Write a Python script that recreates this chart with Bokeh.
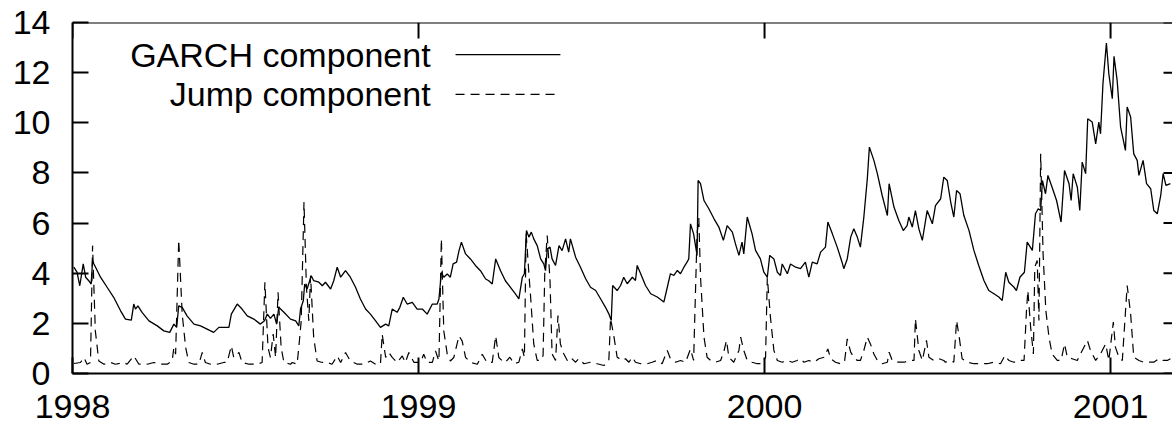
from bokeh.plotting import figure
from bokeh.models import Range1d, LinearAxis, FixedTicker, Label, Span
from bokeh.embed import file_html
from bokeh.resources import INLINE

# ---- data ----
garch_t = [1998.004, 1998.013, 1998.021, 1998.031, 1998.038, 1998.047, 1998.054, 1998.058, 1998.062, 1998.081,
           1998.100, 1998.119, 1998.139, 1998.153, 1998.170, 1998.177, 1998.182, 1998.189, 1998.201, 1998.221,
           1998.245, 1998.264, 1998.281, 1998.293, 1998.301, 1998.307, 1998.317, 1998.331, 1998.351, 1998.370,
           1998.389, 1998.408, 1998.423, 1998.437, 1998.452, 1998.459, 1998.476, 1998.490, 1998.505, 1998.524,
           1998.543, 1998.555, 1998.563, 1998.572, 1998.582, 1998.590, 1998.596, 1998.611, 1998.630, 1998.645,
           1998.654, 1998.659, 1998.667, 1998.671, 1998.678, 1998.690, 1998.697, 1998.712, 1998.722, 1998.731,
           1998.746, 1998.755, 1998.765, 1998.775, 1998.789, 1998.803, 1998.818, 1998.832, 1998.847, 1998.861,
           1998.876, 1998.890, 1998.905, 1998.914, 1998.924, 1998.938, 1998.946, 1998.956, 1998.967, 1998.982,
           1998.996, 1999.011, 1999.025, 1999.040, 1999.054, 1999.059, 1999.066, 1999.073, 1999.083, 1999.092,
           1999.100, 1999.110, 1999.117, 1999.124, 1999.136, 1999.150, 1999.165, 1999.179, 1999.194, 1999.203,
           1999.213, 1999.223, 1999.237, 1999.251, 1999.280, 1999.290, 1999.300, 1999.306, 1999.312, 1999.319,
           1999.326, 1999.333, 1999.343, 1999.353, 1999.362, 1999.367, 1999.372, 1999.380, 1999.386, 1999.396,
           1999.406, 1999.415, 1999.425, 1999.434, 1999.439, 1999.454, 1999.468, 1999.483, 1999.497, 1999.512,
           1999.526, 1999.540, 1999.550, 1999.557, 1999.561, 1999.574, 1999.584, 1999.593, 1999.603, 1999.618,
           1999.627, 1999.632, 1999.642, 1999.656, 1999.671, 1999.690, 1999.709, 1999.719, 1999.728, 1999.738,
           1999.748, 1999.757, 1999.767, 1999.776, 1999.781, 1999.786, 1999.795, 1999.805, 1999.808, 1999.815,
           1999.825, 1999.839, 1999.854, 1999.868, 1999.881, 1999.892, 1999.907, 1999.916, 1999.926, 1999.935,
           1999.940, 1999.950, 1999.964, 1999.974, 1999.988, 1999.998, 2000.008, 2000.015, 2000.027, 2000.037,
           2000.046, 2000.051, 2000.066, 2000.075, 2000.090, 2000.104, 2000.118, 2000.128, 2000.138, 2000.152,
           2000.162, 2000.176, 2000.183, 2000.196, 2000.210, 2000.224, 2000.229, 2000.239, 2000.249, 2000.258,
           2000.268, 2000.277, 2000.287, 2000.297, 2000.303, 2000.316, 2000.326, 2000.340, 2000.355, 2000.360,
           2000.374, 2000.388, 2000.401, 2000.412, 2000.417, 2000.427, 2000.436, 2000.446, 2000.456, 2000.470,
           2000.485, 2000.494, 2000.509, 2000.518, 2000.528, 2000.538, 2000.547, 2000.555, 2000.565, 2000.576,
           2000.591, 2000.605, 2000.619, 2000.634, 2000.648, 2000.663, 2000.677, 2000.687, 2000.697, 2000.706,
           2000.721, 2000.728, 2000.738, 2000.751, 2000.759, 2000.774, 2000.783, 2000.791, 2000.798, 2000.803,
           2000.812, 2000.819, 2000.831, 2000.844, 2000.857, 2000.867, 2000.880, 2000.886, 2000.892, 2000.904,
           2000.911, 2000.918, 2000.928, 2000.934, 2000.947, 2000.957, 2000.966, 2000.971, 2000.978, 2000.988,
           2000.995, 2001.005, 2001.010, 2001.019, 2001.029, 2001.043, 2001.048, 2001.058, 2001.067, 2001.077,
           2001.082, 2001.094, 2001.104, 2001.116, 2001.125, 2001.135, 2001.145, 2001.152, 2001.160, 2001.173]
garch_v = [4.24, 4.04, 3.50, 4.37, 3.84, 3.70, 3.57, 4.50, 4.37, 3.84,
           3.44, 3.04, 2.50, 2.17, 2.13, 2.77, 2.57, 2.70, 2.44, 2.10,
           1.90, 1.70, 1.64, 1.97, 1.84, 2.70, 2.64, 2.30, 1.97, 1.90,
           1.77, 1.64, 1.84, 1.84, 1.84, 2.37, 2.77, 2.57, 2.30, 2.17,
           1.97, 2.10, 2.37, 2.20, 2.37, 1.97, 2.64, 2.44, 2.17, 2.10,
           1.90, 2.57, 2.90, 3.57, 3.37, 3.90, 3.70, 3.64, 3.50, 3.64,
           3.37, 3.70, 4.24, 3.84, 4.10, 3.84, 3.44, 2.97, 2.57, 2.37,
           2.10, 1.84, 1.97, 1.90, 2.57, 2.44, 2.64, 3.04, 2.77, 2.84,
           2.57, 2.57, 2.37, 2.77, 2.77, 2.97, 4.04, 3.84, 3.97, 3.84,
           4.37, 4.44, 4.90, 5.24, 4.77, 4.57, 4.30, 4.10, 3.77, 3.70,
           3.57, 4.57, 4.10, 3.70, 3.18, 2.98, 3.84, 3.98, 5.70, 5.44,
           5.64, 5.37, 5.10, 4.57, 4.37, 4.10, 4.97, 5.04, 4.57, 4.31,
           5.10, 4.90, 5.37, 4.84, 5.37, 4.64, 4.24, 3.78, 3.44, 3.31,
           2.98, 2.65, 2.38, 2.11, 3.51, 3.31, 3.51, 3.84, 3.58, 3.84,
           3.71, 4.31, 3.98, 3.51, 3.18, 3.05, 2.85, 3.44, 3.98, 3.91,
           4.11, 3.98, 4.24, 4.44, 4.57, 5.97, 5.57, 4.71, 7.70, 7.57,
           6.90, 6.57, 6.17, 5.84, 5.31, 5.90, 5.64, 5.17, 4.71, 5.24,
           4.77, 6.24, 5.57, 4.91, 4.57, 4.04, 3.84, 4.71, 4.57, 4.04,
           3.91, 4.37, 3.98, 4.37, 4.24, 4.18, 4.44, 3.84, 4.44, 4.37,
           4.84, 5.04, 6.04, 5.57, 5.04, 4.44, 4.18, 4.57, 5.44, 5.77,
           5.44, 5.04, 6.24, 7.77, 9.03, 8.50, 7.97, 7.10, 6.30, 7.57,
           6.64, 6.10, 5.70, 5.90, 6.24, 5.84, 6.50, 5.77, 5.31, 6.50,
           5.97, 6.70, 6.97, 7.83, 7.70, 6.84, 6.24, 7.30, 7.17, 6.30,
           5.70, 4.91, 4.31, 3.71, 3.31, 3.18, 3.05, 2.91, 4.04, 3.64,
           3.44, 3.31, 3.84, 4.04, 5.24, 4.91, 6.37, 6.57, 6.50, 7.70,
           7.17, 7.90, 7.43, 6.90, 6.04, 8.10, 7.57, 6.90, 7.97, 7.43,
           6.50, 8.43, 7.97, 10.16, 10.03, 9.16, 10.03, 9.56, 11.56, 13.18,
           11.95, 10.96, 12.65, 11.69, 9.83, 8.90, 10.63, 10.23, 8.76, 8.50,
           7.90, 8.50, 7.57, 7.37, 6.50, 6.37, 7.10, 7.97, 7.50, 7.57]

jump_t = [1998.004, 1998.023, 1998.033, 1998.042, 1998.052, 1998.058, 1998.066, 1998.076, 1998.091, 1998.110,
          1998.124, 1998.148, 1998.158, 1998.177, 1998.192, 1998.216, 1998.235, 1998.254, 1998.274, 1998.288,
          1998.293, 1998.298, 1998.307, 1998.317, 1998.327, 1998.336, 1998.351, 1998.365, 1998.375, 1998.384,
          1998.399, 1998.418, 1998.437, 1998.447, 1998.459, 1998.466, 1998.481, 1998.490, 1998.510, 1998.534,
          1998.548, 1998.556, 1998.565, 1998.572, 1998.580, 1998.587, 1998.594, 1998.603, 1998.611, 1998.630,
          1998.635, 1998.649, 1998.654, 1998.661, 1998.669, 1998.676, 1998.683, 1998.688, 1998.697, 1998.707,
          1998.722, 1998.736, 1998.750, 1998.765, 1998.775, 1998.789, 1998.803, 1998.823, 1998.842, 1998.861,
          1998.876, 1998.890, 1998.895, 1998.905, 1998.914, 1998.924, 1998.938, 1998.953, 1998.962, 1998.972,
          1998.987, 1999.006, 1999.015, 1999.025, 1999.040, 1999.049, 1999.059, 1999.066, 1999.073, 1999.083,
          1999.092, 1999.102, 1999.117, 1999.126, 1999.136, 1999.150, 1999.170, 1999.184, 1999.198, 1999.213,
          1999.223, 1999.232, 1999.247, 1999.251, 1999.264, 1999.276, 1999.290, 1999.300, 1999.306, 1999.311,
          1999.319, 1999.324, 1999.333, 1999.343, 1999.353, 1999.360, 1999.365, 1999.372, 1999.380, 1999.386,
          1999.396, 1999.403, 1999.410, 1999.420, 1999.430, 1999.439, 1999.454, 1999.463, 1999.478, 1999.497,
          1999.516, 1999.536, 1999.550, 1999.555, 1999.565, 1999.574, 1999.589, 1999.598, 1999.608, 1999.618,
          1999.627, 1999.642, 1999.661, 1999.675, 1999.690, 1999.704, 1999.719, 1999.728, 1999.743, 1999.757,
          1999.772, 1999.786, 1999.795, 1999.805, 1999.810, 1999.815, 1999.825, 1999.834, 1999.844, 1999.858,
          1999.873, 1999.882, 1999.890, 1999.897, 1999.911, 1999.926, 1999.931, 1999.940, 1999.950, 1999.964,
          1999.979, 1999.993, 2000.003, 2000.008, 2000.017, 2000.027, 2000.037, 2000.051, 2000.066, 2000.080,
          2000.094, 2000.104, 2000.114, 2000.128, 2000.143, 2000.157, 2000.172, 2000.183, 2000.191, 2000.205,
          2000.220, 2000.231, 2000.239, 2000.249, 2000.258, 2000.268, 2000.277, 2000.287, 2000.297, 2000.306,
          2000.316, 2000.326, 2000.340, 2000.355, 2000.360, 2000.369, 2000.383, 2000.403, 2000.422, 2000.432,
          2000.436, 2000.446, 2000.456, 2000.468, 2000.475, 2000.489, 2000.504, 2000.518, 2000.523, 2000.538,
          2000.547, 2000.555, 2000.562, 2000.571, 2000.586, 2000.605, 2000.624, 2000.644, 2000.663, 2000.682,
          2000.695, 2000.706, 2000.721, 2000.735, 2000.750, 2000.757, 2000.761, 2000.769, 2000.777, 2000.781,
          2000.788, 2000.793, 2000.798, 2000.805, 2000.813, 2000.822, 2000.831, 2000.846, 2000.857, 2000.867,
          2000.875, 2000.889, 2000.904, 2000.913, 2000.923, 2000.933, 2000.942, 2000.957, 2000.971, 2000.986,
          2000.995, 2001.008, 2001.014, 2001.024, 2001.034, 2001.048, 2001.058, 2001.067, 2001.082, 2001.096,
          2001.111, 2001.125, 2001.140, 2001.152, 2001.164, 2001.173]
jump_v = [0.40, 0.44, 0.64, 0.37, 0.44, 5.10, 1.70, 0.50, 0.37, 0.44,
          0.37, 0.44, 0.37, 0.70, 0.37, 0.37, 0.44, 0.37, 0.37, 0.50,
          1.04, 0.77, 5.33, 2.37, 1.04, 0.44, 0.37, 0.37, 0.84, 0.44,
          0.37, 0.37, 0.44, 0.44, 1.10, 0.64, 0.84, 0.44, 0.37, 0.37,
          0.44, 3.64, 1.04, 0.64, 1.57, 0.64, 3.24, 1.04, 0.44, 0.37,
          0.44, 0.37, 1.04, 2.10, 6.84, 3.44, 2.10, 3.90, 1.44, 0.50,
          0.44, 0.44, 0.37, 0.70, 0.44, 0.84, 0.50, 0.37, 0.37, 0.50,
          0.37, 0.37, 1.57, 0.64, 0.84, 0.64, 0.44, 0.70, 0.44, 0.84,
          0.44, 0.44, 0.77, 0.44, 0.44, 0.90, 0.50, 5.37, 1.70, 0.77,
          0.50, 0.64, 1.50, 1.30, 0.64, 0.44, 0.37, 0.77, 0.44, 0.44,
          1.50, 0.64, 0.44, 0.45, 0.65, 0.39, 0.45, 0.98, 0.65, 5.60,
          3.98, 3.05, 1.18, 0.52, 0.52, 0.72, 4.11, 5.50, 3.71, 0.78,
          0.52, 2.31, 1.18, 0.78, 0.52, 0.65, 0.45, 0.59, 0.39, 0.45,
          0.39, 0.32, 0.52, 2.20, 1.45, 0.65, 0.52, 0.59, 0.45, 0.65,
          0.45, 0.39, 0.39, 0.45, 0.52, 0.39, 0.92, 0.59, 0.45, 0.52,
          0.45, 0.98, 0.52, 5.57, 6.20, 3.84, 1.45, 0.65, 0.52, 0.45,
          0.52, 0.85, 1.32, 0.65, 0.45, 0.92, 1.45, 0.92, 0.52, 0.45,
          0.39, 0.39, 0.65, 3.84, 2.25, 0.92, 0.52, 0.45, 0.52, 0.45,
          0.52, 0.59, 0.45, 0.52, 0.45, 0.59, 0.65, 0.98, 0.59, 0.45,
          0.39, 0.45, 1.38, 0.85, 0.65, 0.52, 0.52, 0.92, 1.45, 1.18,
          0.78, 0.52, 0.39, 0.45, 0.85, 0.52, 0.45, 0.45, 0.52, 0.52,
          2.18, 0.92, 0.52, 1.32, 0.65, 0.52, 0.59, 0.52, 0.45, 0.52,
          0.45, 2.11, 1.52, 0.59, 0.45, 0.39, 0.39, 0.39, 0.45, 0.39,
          0.72, 0.52, 0.45, 0.52, 0.52, 2.51, 3.31, 1.85, 0.78, 4.24,
          4.51, 2.11, 8.76, 4.77, 2.51, 1.45, 0.78, 0.52, 0.52, 1.18,
          0.65, 0.59, 0.52, 0.78, 1.05, 1.32, 0.92, 0.52, 0.78, 1.18,
          0.52, 2.05, 1.05, 0.65, 0.52, 3.51, 2.38, 0.65, 0.52, 0.45,
          0.45, 0.45, 0.59, 0.52, 0.52, 0.59]

year_ticks = [1998, 1999, 2000, 2001]
value_ticks = [0, 2, 4, 6, 8, 10, 12, 14]
series_names = ["GARCH component", "Jump component"]

FONT = "Liberation Sans"
FS = "34px"
DASH = "9 6"
X0, X1 = 1998, 2001.179
Y0, Y1 = 0, 14

p = figure(width=1172, height=433, output_backend="svg", toolbar_location=None,
           x_range=Range1d(X0, X1), y_range=Range1d(Y0, Y1),
           min_border_left=72, min_border_right=0, min_border_top=22, min_border_bottom=60,
           x_axis_location=None, y_axis_location=None)
p.outline_line_color = None
p.grid.visible = False
p.background_fill_color = "white"
p.border_fill_color = "white"

def style(ax):
    ax.axis_line_width = 2
    ax.axis_line_color = "black"
    ax.major_tick_line_width = 2
    ax.major_tick_line_color = "black"
    ax.major_tick_in = 16
    ax.major_tick_out = 0
    ax.minor_tick_line_color = None
    ax.major_label_text_font = FONT
    ax.major_label_text_font_size = FS
    ax.major_label_text_color = "black"

bottom = LinearAxis(ticker=FixedTicker(ticks=year_ticks))
style(bottom)
bottom.major_label_standoff = 21
p.add_layout(bottom, "below")

left = LinearAxis(ticker=FixedTicker(ticks=value_ticks))
style(left)
left.major_label_standoff = 22
p.add_layout(left, "left")

# mirrored border/ticks on top and right (gnuplot style)
p.add_layout(Span(location=Y1, dimension="width", line_color="black", line_width=2))
top_len = 16 / 25.07
right_len = 9 / 346.0
p.segment(x0=year_ticks, y0=[Y1] * len(year_ticks), x1=year_ticks, y1=[Y1 - top_len] * len(year_ticks),
          line_color="black", line_width=2)
p.segment(x0=[X1 - right_len] * len(value_ticks), y0=value_ticks, x1=[X1] * len(value_ticks), y1=value_ticks,
          line_color="black", line_width=2)

p.line(garch_t, garch_v, line_color="black", line_width=1.3)
p.line(jump_t, jump_v, line_color="black", line_width=1.2, line_dash=DASH)

# key (gnuplot style: text right-aligned, sample to its right)
key_text_x = 1999.035
key_line_x = [1999.107, 1999.410]
key_y = [12.72, 11.13]
dashes = ["solid", DASH]
for name, yy, dash in zip(series_names, key_y, dashes):
    p.add_layout(Label(x=key_text_x, y=yy, text=name, text_align="right", text_baseline="middle",
                       text_font=FONT, text_font_size=FS, text_color="black"))
    p.line(key_line_x, [yy, yy], line_color="black", line_width=1.3, line_dash=dash)

open("out.html", "w").write(file_html(p, INLINE))
